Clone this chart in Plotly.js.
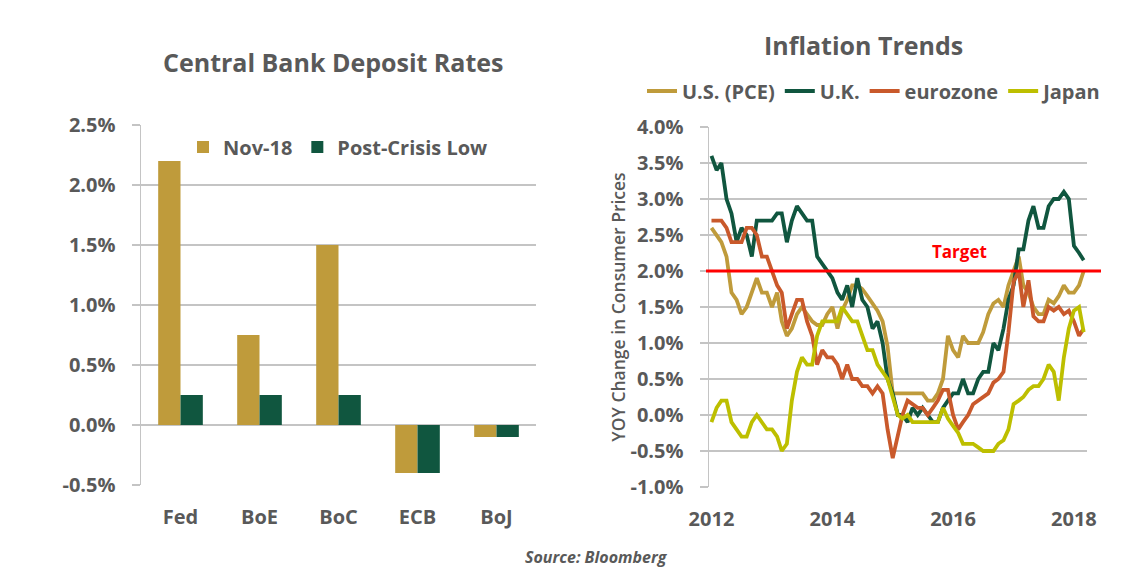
<!DOCTYPE html>
<html>
<head>
<meta charset="utf-8">
<script src="https://cdn.plot.ly/plotly-3.0.1.min.js"></script>
<style>
  html, body { margin: 0; padding: 0; background: #ffffff; }
  #chart { width: 1127px; height: 579px; }
</style>
</head>
<body>
<div id="chart"></div>
<script>
// ---------- Left chart: Central Bank Deposit Rates ----------
const BANKS = ['Fed', 'BoE', 'BoC', 'ECB', 'BoJ'];
const NOV18 = [2.2, 0.75, 1.5, -0.4, -0.1];
const POST_CRISIS_LOW = [0.25, 0.25, 0.25, -0.4, -0.1];
const LEFT_Y_TICKS = [-0.5, 0, 0.5, 1.0, 1.5, 2.0, 2.5];
const LEFT_Y_LABELS = ['-0.5%', '0.0%', '0.5%', '1.0%', '1.5%', '2.0%', '2.5%'];

// ---------- Right chart: Inflation Trends (monthly, Jan 2012 - Mar 2018) ----------
const START_YEAR = 2012, START_MONTH = 1;
const US_PCE = [
  2.6, 2.5, 2.4, 2.2, 1.7, 1.6, 1.4, 1.5, 1.7, 1.9, 1.7, 1.7,
  1.5, 1.7, 1.3, 1.1, 1.2, 1.4, 1.5, 1.4, 1.3, 1.25, 1.25, 1.4,
  1.5, 1.2, 1.45, 1.6, 1.8, 1.8, 1.75, 1.65, 1.55, 1.45, 1.3, 0.95,
  0.3, 0.3, 0.3, 0.3, 0.3, 0.3, 0.3, 0.2, 0.2, 0.3, 0.5, 1.1,
  0.9, 0.8, 1.1, 1.0, 1.0, 1.0, 1.15, 1.4, 1.55, 1.6, 1.5, 1.8,
  2.0, 2.2, 1.8, 1.7, 1.5, 1.4, 1.4, 1.6, 1.55, 1.65, 1.8, 1.7,
  1.7, 1.8, 2.0
];
const UK = [
  3.6, 3.4, 3.5, 3.0, 2.8, 2.4, 2.6, 2.5, 2.2, 2.7, 2.7, 2.7,
  2.7, 2.8, 2.8, 2.4, 2.7, 2.9, 2.8, 2.7, 2.7, 2.2, 2.1, 2.0,
  1.9, 1.7, 1.6, 1.8, 1.5, 1.9, 1.6, 1.5, 1.2, 1.3, 1.0, 0.5,
  0.3, 0.0, 0.0, -0.1, 0.1, 0.0, 0.1, 0.0, -0.1, -0.1, 0.1, 0.2,
  0.3, 0.3, 0.5, 0.3, 0.3, 0.5, 0.6, 0.6, 1.0, 0.9, 1.2, 1.6,
  1.8, 2.3, 2.3, 2.7, 2.9, 2.6, 2.6, 2.9, 3.0, 3.0, 3.1, 3.0,
  2.35, 2.25, 2.15
];
const EUROZONE = [
  2.7, 2.7, 2.7, 2.6, 2.4, 2.4, 2.4, 2.6, 2.6, 2.5, 2.2, 2.2,
  2.0, 1.8, 1.7, 1.2, 1.4, 1.6, 1.6, 1.3, 1.1, 0.7, 0.9, 0.8,
  0.8, 0.7, 0.5, 0.7, 0.5, 0.5, 0.4, 0.4, 0.3, 0.4, 0.3, -0.2,
  -0.6, -0.3, 0.0, 0.2, 0.15, 0.1, 0.1, 0.0, 0.1, 0.2, 0.35, 0.35,
  0.0, -0.2, -0.1, 0.0, 0.15, 0.2, 0.25, 0.3, 0.45, 0.5, 0.6, 1.15,
  1.85, 2.0, 1.5, 1.87, 1.37, 1.3, 1.3, 1.5, 1.45, 1.5, 1.4, 1.45,
  1.3, 1.1, 1.2
];
const JAPAN = [
  -0.1, 0.1, 0.2, 0.2, -0.1, -0.2, -0.3, -0.3, -0.1, 0.0, -0.1, -0.2,
  -0.2, -0.3, -0.5, -0.4, 0.2, 0.6, 0.8, 0.7, 0.7, 1.1, 1.3, 1.3,
  1.3, 1.3, 1.5, 1.4, 1.3, 1.3, 1.1, 0.9, 0.9, 0.7, 0.6, 0.5,
  0.25, 0.0, -0.05, 0.0, -0.1, -0.1, -0.1, -0.1, -0.1, -0.1, 0.1, -0.05,
  -0.15, -0.25, -0.4, -0.4, -0.4, -0.45, -0.5, -0.5, -0.5, -0.4, -0.35, -0.2,
  0.15, 0.2, 0.25, 0.35, 0.4, 0.4, 0.5, 0.7, 0.6, 0.2, 0.8, 1.2,
  1.45, 1.5, 1.15
];
const TARGET = 2.0;
const RIGHT_Y_TICKS = [-1.0, -0.5, 0, 0.5, 1.0, 1.5, 2.0, 2.5, 3.0, 3.5, 4.0];
const RIGHT_Y_LABELS = ['-1.0%', '-0.5%', '0.0%', '0.5%', '1.0%', '1.5%', '2.0%', '2.5%', '3.0%', '3.5%', '4.0%'];
const YEAR_TICKS = ['2012-01-01', '2014-01-01', '2016-01-01', '2018-01-01'];
const YEAR_LABELS = ['2012', '2014', '2016', '2018'];

// month dates for the series
const MONTHS = US_PCE.map((_, i) => {
  const m = START_MONTH - 1 + i;
  const y = START_YEAR + Math.floor(m / 12);
  const mm = (m % 12) + 1;
  return y + '-' + String(mm).padStart(2, '0') + '-01';
});

// ---------- styles ----------
const W = 1127, H = 579;
const px = v => v / W;
const py = v => 1 - v / H;
const GRAY = '#595959';
const GRID = '#C4C4C4';
const GOLD = '#BF9B3B';
const DKGREEN = '#10563F';
const ORANGE = '#C9592B';
const LIME = '#BDBF00';
const FONT = 'Open Sans, Liberation Sans, sans-serif';

const traces = [
  { type: 'bar', name: 'Nov-18', x: BANKS, y: NOV18, marker: { color: GOLD },
    xaxis: 'x', yaxis: 'y', legend: 'legend', hoverinfo: 'skip' },
  { type: 'bar', name: 'Post-Crisis Low', x: BANKS, y: POST_CRISIS_LOW, marker: { color: DKGREEN },
    xaxis: 'x', yaxis: 'y', legend: 'legend', hoverinfo: 'skip' },
  { type: 'scatter', mode: 'lines', name: 'U.S. (PCE)', x: MONTHS, y: US_PCE,
    line: { color: GOLD, width: 3.8 }, xaxis: 'x2', yaxis: 'y2', legend: 'legend2' },
  { type: 'scatter', mode: 'lines', name: 'U.K.', x: MONTHS, y: UK,
    line: { color: DKGREEN, width: 3.8 }, xaxis: 'x2', yaxis: 'y2', legend: 'legend2' },
  { type: 'scatter', mode: 'lines', name: 'eurozone', x: MONTHS, y: EUROZONE,
    line: { color: ORANGE, width: 3.8 }, xaxis: 'x2', yaxis: 'y2', legend: 'legend2' },
  { type: 'scatter', mode: 'lines', name: 'Japan', x: MONTHS, y: JAPAN,
    line: { color: LIME, width: 3.8 }, xaxis: 'x2', yaxis: 'y2', legend: 'legend2' }
];

const tickFont = { family: FONT, size: 20, color: GRAY, weight: 'bold' };

const layout = {
  width: W, height: H, autosize: false,
  margin: { l: 0, r: 0, t: 0, b: 0, pad: 0 },
  paper_bgcolor: '#ffffff', plot_bgcolor: '#ffffff',
  font: { family: FONT, color: GRAY },
  barmode: 'group', bargap: 0.435, bargroupgap: 0,
  showlegend: true,
  xaxis: {
    domain: [px(141), px(536)], anchor: 'y',
    showgrid: false, showline: false, zeroline: false, ticks: '',
    tickfont: tickFont, ticklabelstandoff: 18, fixedrange: true
  },
  yaxis: {
    domain: [py(485), py(125)], anchor: 'x',
    range: [-0.5, 2.5], tickvals: LEFT_Y_TICKS, ticktext: LEFT_Y_LABELS,
    showgrid: true, gridcolor: GRID, gridwidth: 1.5, zeroline: false,
    showline: true, linecolor: GRID, linewidth: 1.5,
    ticks: 'outside', ticklen: 8, tickcolor: GRID, tickwidth: 1.5,
    tickfont: tickFont, ticklabelstandoff: 12, fixedrange: true
  },
  xaxis2: {
    domain: [px(709), px(1087)], anchor: 'y2', type: 'date',
    range: ['2011-12-17', '2018-03-21'],
    tickvals: YEAR_TICKS, ticktext: YEAR_LABELS,
    showgrid: false, showline: false, zeroline: false, ticks: '',
    tickfont: tickFont, ticklabelstandoff: 18, fixedrange: true
  },
  yaxis2: {
    domain: [py(487), py(127)], anchor: 'x2',
    range: [-1, 4], tickvals: RIGHT_Y_TICKS, ticktext: RIGHT_Y_LABELS,
    showgrid: true, gridcolor: GRID, gridwidth: 1.5, zeroline: false,
    showline: true, linecolor: GRID, linewidth: 1.5,
    ticks: 'outside', ticklen: 8, tickcolor: GRID, tickwidth: 1.5,
    tickfont: tickFont, ticklabelstandoff: 12, fixedrange: true,
    title: { text: 'YOY Change in Consumer Prices', standoff: 0,
             font: { family: FONT, size: 17.5, color: GRAY, weight: 600 } }
  },
  legend: {
    orientation: 'h', x: px(183), y: py(147), xanchor: 'left', yanchor: 'middle',
    bgcolor: 'rgba(0,0,0,0)', font: { family: FONT, size: 20, color: GRAY, weight: 'bold' },
    itemclick: false, itemdoubleclick: false
  },
  legend2: {
    orientation: 'h', x: px(642), y: py(91), xanchor: 'left', yanchor: 'middle',
    bgcolor: 'rgba(0,0,0,0)', font: { family: FONT, size: 20, color: GRAY, weight: 'bold' },
    itemclick: false, itemdoubleclick: false, itemwidth: 30
  },
  shapes: [
    { type: 'line', xref: 'paper', yref: 'y2', x0: px(706), x1: px(1101), y0: TARGET, y1: TARGET,
      line: { color: '#FF0000', width: 3 }, layer: 'above' }
  ],
  annotations: [
    { text: 'Central Bank Deposit Rates', xref: 'paper', yref: 'paper', x: px(333), y: py(62),
      xanchor: 'center', yanchor: 'middle', showarrow: false,
      font: { family: FONT, size: 25, color: GRAY, weight: 'bold' } },
    { text: 'Inflation Trends', xref: 'paper', yref: 'paper', x: px(863), y: py(45),
      xanchor: 'center', yanchor: 'middle', showarrow: false,
      font: { family: FONT, size: 25, color: GRAY, weight: 'bold' } },
    { text: 'Target', xref: 'paper', yref: 'y2', x: px(959), y: TARGET, yshift: 20,
      xanchor: 'center', yanchor: 'middle', showarrow: false,
      font: { family: FONT, size: 17, color: '#FF0000', weight: 'bold' } },
    { text: 'Source: Bloomberg', xref: 'paper', yref: 'paper', x: px(596), y: py(557),
      xanchor: 'center', yanchor: 'middle', showarrow: false,
      font: { family: FONT, size: 16, color: GRAY, weight: 'bold', style: 'italic' } }
  ]
};

Plotly.newPlot('chart', traces, layout, { displayModeBar: false, staticPlot: true });
</script>
</body>
</html>
